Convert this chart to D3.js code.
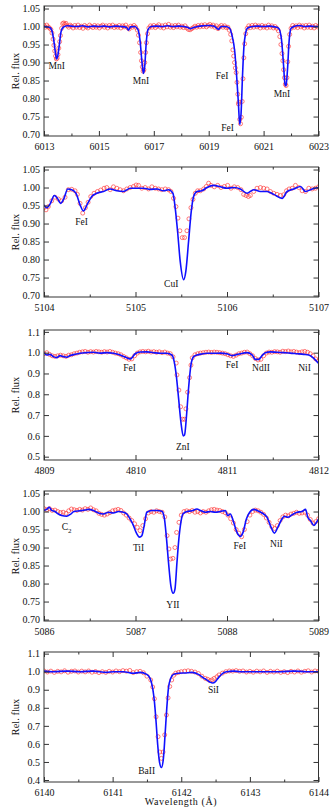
<!DOCTYPE html>
<html>
<head>
<meta charset="utf-8">
<script src="https://cdn.jsdelivr.net/npm/d3@7"></script>
<style>
  body { margin: 0; background: #fff; }
  svg text { font-family: "Liberation Serif", "DejaVu Serif", serif; }
</style>
</head>
<body>
<script>
// ---- panel 1: 6013-6023 A (MnI, FeI) ----
const p1Model = [[6013.00,1.000],[6013.10,0.999],[6013.20,0.998],[6013.28,0.990],[6013.35,0.965],[6013.42,0.925],[6013.46,0.910],[6013.50,0.918],[6013.56,0.950],[6013.62,0.985],[6013.70,0.998],[6013.85,1.002],[6014.00,1.001],[6014.20,1.000],[6014.40,1.002],[6014.60,0.999],[6014.80,1.001],[6015.00,1.000],[6015.20,1.001],[6015.40,0.999],[6015.60,1.001],[6015.80,1.000],[6016.00,0.998],[6016.08,0.990],[6016.15,0.999],[6016.30,1.000],[6016.42,0.992],[6016.50,0.960],[6016.57,0.900],[6016.62,0.870],[6016.67,0.890],[6016.72,0.950],[6016.78,0.990],[6016.90,1.000],[6017.10,1.001],[6017.30,1.000],[6017.50,1.002],[6017.70,1.000],[6017.90,1.001],[6018.10,1.000],[6018.25,0.997],[6018.33,0.994],[6018.45,0.997],[6018.60,1.000],[6018.80,1.002],[6019.00,1.003],[6019.20,1.001],[6019.36,0.992],[6019.45,1.000],[6019.60,1.000],[6019.75,0.996],[6019.85,0.975],[6019.95,0.930],[6020.02,0.860],[6020.08,0.790],[6020.13,0.728],[6020.18,0.760],[6020.23,0.860],[6020.28,0.940],[6020.34,0.980],[6020.42,0.996],[6020.60,1.000],[6020.80,1.001],[6021.00,1.000],[6021.20,1.001],[6021.40,0.999],[6021.55,0.995],[6021.65,0.965],[6021.72,0.900],[6021.78,0.840],[6021.82,0.835],[6021.87,0.880],[6021.93,0.960],[6022.00,0.995],[6022.10,1.000],[6022.30,1.003],[6022.50,1.000],[6022.70,1.001],[6022.90,1.000],[6023.00,1.000]];
const p1Obs = [[6013.00,1.003],[6013.05,0.998],[6013.10,1.004],[6013.15,0.999],[6013.20,0.996],[6013.25,0.992],[6013.29,0.982],[6013.33,0.965],[6013.36,0.948],[6013.39,0.932],[6013.42,0.918],[6013.45,0.910],[6013.48,0.912],[6013.51,0.922],[6013.54,0.940],[6013.57,0.958],[6013.60,0.975],[6013.64,0.995],[6013.68,1.008],[6013.72,1.010],[6013.76,1.006],[6013.80,1.009],[6013.85,1.002],[6013.90,0.998],[6013.95,1.004],[6014.00,1.001],[6014.06,0.996],[6014.12,1.003],[6014.18,0.998],[6014.24,1.004],[6014.30,0.997],[6014.36,1.001],[6014.42,0.995],[6014.48,1.003],[6014.54,0.999],[6014.60,0.996],[6014.66,1.004],[6014.72,1.000],[6014.78,0.997],[6014.84,1.003],[6014.90,0.998],[6014.96,1.002],[6015.02,0.996],[6015.08,1.001],[6015.14,1.004],[6015.20,0.998],[6015.26,1.002],[6015.32,0.996],[6015.38,1.003],[6015.44,0.999],[6015.50,1.004],[6015.56,0.997],[6015.62,1.001],[6015.68,0.998],[6015.74,1.003],[6015.80,0.996],[6015.86,1.002],[6015.92,0.999],[6015.98,1.004],[6016.04,0.997],[6016.10,0.993],[6016.16,1.001],[6016.22,0.998],[6016.28,1.003],[6016.34,0.998],[6016.40,0.990],[6016.44,0.976],[6016.48,0.955],[6016.52,0.928],[6016.55,0.905],[6016.58,0.888],[6016.61,0.876],[6016.64,0.880],[6016.67,0.900],[6016.70,0.928],[6016.73,0.955],[6016.77,0.980],[6016.82,0.996],[6016.88,1.002],[6016.94,0.998],[6017.00,1.003],[6017.06,0.997],[6017.12,1.001],[6017.18,1.005],[6017.24,0.998],[6017.30,1.002],[6017.36,0.996],[6017.42,1.004],[6017.48,0.999],[6017.54,1.006],[6017.60,0.998],[6017.66,1.002],[6017.72,0.997],[6017.78,1.003],[6017.84,0.999],[6017.90,1.004],[6017.96,0.998],[6018.02,1.001],[6018.08,0.997],[6018.14,1.002],[6018.20,0.996],[6018.26,0.992],[6018.32,0.991],[6018.38,0.994],[6018.44,0.997],[6018.50,1.001],[6018.56,0.998],[6018.62,1.003],[6018.68,0.999],[6018.74,1.004],[6018.80,1.000],[6018.86,1.005],[6018.92,0.999],[6018.98,1.003],[6019.04,1.006],[6019.10,1.001],[6019.16,1.004],[6019.22,0.998],[6019.28,1.002],[6019.34,0.994],[6019.40,0.999],[6019.46,1.003],[6019.52,0.998],[6019.58,1.002],[6019.64,0.997],[6019.70,0.998],[6019.75,0.990],[6019.80,0.978],[6019.84,0.960],[6019.88,0.935],[6019.91,0.918],[6019.94,0.900],[6019.97,0.885],[6020.00,0.872],[6020.03,0.845],[6020.06,0.812],[6020.08,0.785],[6020.10,0.790],[6020.13,0.742],[6020.16,0.730],[6020.19,0.748],[6020.22,0.792],[6020.25,0.855],[6020.28,0.913],[6020.31,0.952],[6020.35,0.980],[6020.40,0.995],[6020.46,1.002],[6020.52,0.997],[6020.58,1.003],[6020.64,0.998],[6020.70,1.004],[6020.76,0.999],[6020.82,1.002],[6020.88,0.996],[6020.94,1.003],[6021.00,0.998],[6021.06,1.001],[6021.12,0.996],[6021.18,1.004],[6021.24,0.998],[6021.30,1.002],[6021.36,0.996],[6021.42,1.000],[6021.48,0.995],[6021.54,0.988],[6021.59,0.972],[6021.63,0.950],[6021.67,0.925],[6021.70,0.905],[6021.73,0.880],[6021.76,0.858],[6021.79,0.840],[6021.82,0.836],[6021.85,0.858],[6021.88,0.902],[6021.91,0.945],[6021.95,0.978],[6022.00,0.995],[6022.06,1.003],[6022.12,0.998],[6022.18,1.002],[6022.24,0.997],[6022.30,1.004],[6022.36,0.999],[6022.42,1.002],[6022.48,0.996],[6022.54,1.003],[6022.60,0.998],[6022.66,1.004],[6022.72,0.997],[6022.78,1.001],[6022.84,0.996],[6022.90,1.003],[6022.96,0.999]];
const p1Lines = [["MnI",6013.46,0.891],["MnI",6016.53,0.851],["FeI",6019.49,0.863],["FeI",6019.69,0.719],["MnI",6021.67,0.813]];

// ---- panel 2: 5104-5107 A (CuI) ----
const p2Model = [[5104.000,0.952],[5104.029,0.944],[5104.066,0.954],[5104.113,0.978],[5104.146,0.970],[5104.182,0.956],[5104.219,0.970],[5104.259,0.996],[5104.303,0.994],[5104.350,0.984],[5104.394,0.952],[5104.431,0.935],[5104.474,0.954],[5104.522,0.975],[5104.577,0.984],[5104.650,0.989],[5104.723,0.996],[5104.796,0.991],[5104.869,0.989],[5104.942,0.998],[5105.015,0.998],[5105.088,0.998],[5105.161,0.995],[5105.234,0.996],[5105.307,0.991],[5105.361,0.994],[5105.409,0.984],[5105.434,0.943],[5105.460,0.878],[5105.489,0.794],[5105.526,0.744],[5105.550,0.767],[5105.580,0.850],[5105.609,0.933],[5105.635,0.975],[5105.672,0.989],[5105.726,0.991],[5105.781,1.000],[5105.854,1.006],[5105.927,1.002],[5106.000,0.998],[5106.073,1.000],[5106.146,0.996],[5106.219,0.984],[5106.292,0.994],[5106.365,0.989],[5106.438,0.989],[5106.511,0.981],[5106.602,0.970],[5106.657,0.989],[5106.730,0.996],[5106.803,1.003],[5106.858,0.989],[5106.931,0.996],[5107.000,1.000]];
const p2Obs = [[5104.000,0.944],[5104.022,0.938],[5104.047,0.947],[5104.084,0.963],[5104.120,0.973],[5104.157,0.968],[5104.193,0.963],[5104.230,0.973],[5104.266,0.994],[5104.303,0.995],[5104.339,0.991],[5104.365,0.981],[5104.394,0.956],[5104.423,0.929],[5104.453,0.944],[5104.482,0.959],[5104.511,0.975],[5104.547,0.984],[5104.584,0.989],[5104.620,0.993],[5104.657,0.998],[5104.686,1.000],[5104.723,0.994],[5104.759,1.002],[5104.796,0.998],[5104.832,0.994],[5104.869,0.991],[5104.905,0.996],[5104.942,1.000],[5104.978,1.003],[5105.007,1.007],[5105.033,1.006],[5105.069,0.998],[5105.106,1.000],[5105.142,0.996],[5105.179,1.002],[5105.215,0.998],[5105.252,0.996],[5105.288,0.994],[5105.325,0.996],[5105.361,0.994],[5105.387,0.989],[5105.416,0.970],[5105.442,0.947],[5105.464,0.915],[5105.485,0.880],[5105.511,0.861],[5105.536,0.861],[5105.562,0.880],[5105.584,0.913],[5105.606,0.944],[5105.628,0.967],[5105.653,0.984],[5105.679,0.991],[5105.708,0.991],[5105.745,0.996],[5105.774,1.003],[5105.799,1.012],[5105.825,1.006],[5105.861,1.002],[5105.898,1.006],[5105.934,1.000],[5105.971,1.003],[5106.007,1.006],[5106.044,0.998],[5106.080,1.002],[5106.117,1.000],[5106.153,0.994],[5106.182,0.981],[5106.208,0.978],[5106.234,0.975],[5106.255,0.978],[5106.292,0.989],[5106.328,0.998],[5106.365,1.000],[5106.401,0.998],[5106.438,0.996],[5106.474,0.989],[5106.511,0.984],[5106.547,0.981],[5106.584,0.978],[5106.620,0.980],[5106.650,0.991],[5106.679,0.996],[5106.712,0.998],[5106.748,1.006],[5106.785,1.000],[5106.821,0.991],[5106.858,0.989],[5106.894,0.998],[5106.931,0.996],[5106.967,0.998],[5107.000,1.002]];
const p2Lines = [["FeI",5104.41,0.904],["CuI",5105.39,0.732]];

// ---- panel 3: 4809-4812 A (ZnI) ----
const p3Model = [[4809.000,1.000],[4809.029,0.989],[4809.066,0.992],[4809.102,0.981],[4809.139,0.976],[4809.175,0.986],[4809.212,0.981],[4809.248,0.978],[4809.285,0.986],[4809.339,0.992],[4809.394,0.997],[4809.467,1.000],[4809.540,1.002],[4809.613,0.998],[4809.686,1.000],[4809.759,0.997],[4809.832,0.989],[4809.887,0.979],[4809.942,0.970],[4809.960,0.975],[4809.996,0.995],[4810.051,1.003],[4810.124,1.004],[4810.197,1.000],[4810.270,0.997],[4810.343,0.997],[4810.398,0.989],[4810.423,0.957],[4810.445,0.893],[4810.471,0.780],[4810.496,0.668],[4810.522,0.600],[4810.536,0.604],[4810.558,0.700],[4810.580,0.829],[4810.606,0.941],[4810.635,0.981],[4810.672,0.989],[4810.726,0.994],[4810.781,0.997],[4810.854,0.997],[4810.927,0.998],[4811.000,0.995],[4811.055,0.986],[4811.091,0.989],[4811.146,0.995],[4811.219,1.000],[4811.274,0.989],[4811.310,0.968],[4811.347,0.968],[4811.383,0.986],[4811.420,1.000],[4811.474,1.004],[4811.547,1.002],[4811.620,1.000],[4811.693,0.998],[4811.766,0.995],[4811.839,0.992],[4811.894,0.989],[4811.949,0.973],[4812.000,0.949]];
const p3Obs = [[4809.00,0.995],[4809.03,1.000],[4809.06,0.992],[4809.09,0.985],[4809.12,0.982],[4809.15,0.985],[4809.18,0.988],[4809.21,0.985],[4809.24,0.982],[4809.27,0.988],[4809.30,0.990],[4809.33,0.995],[4809.36,0.998],[4809.39,1.002],[4809.42,1.004],[4809.45,1.006],[4809.48,1.002],[4809.51,1.005],[4809.54,1.003],[4809.57,1.006],[4809.60,1.004],[4809.63,1.002],[4809.66,1.005],[4809.69,1.003],[4809.72,1.006],[4809.75,1.002],[4809.78,0.998],[4809.81,0.995],[4809.84,0.990],[4809.87,0.982],[4809.90,0.975],[4809.93,0.968],[4809.96,0.970],[4809.99,0.985],[4810.02,0.998],[4810.05,1.004],[4810.08,1.006],[4810.11,1.004],[4810.14,1.007],[4810.17,1.003],[4810.20,1.005],[4810.23,1.002],[4810.26,1.004],[4810.29,1.000],[4810.32,1.003],[4810.35,0.998],[4810.38,0.995],[4810.41,0.980],[4810.445,0.950],[4810.453,0.893],[4810.474,0.820],[4810.493,0.740],[4810.515,0.680],[4810.536,0.680],[4810.551,0.730],[4810.569,0.810],[4810.591,0.880],[4810.606,0.940],[4810.62,0.975],[4810.65,0.990],[4810.68,0.995],[4810.71,0.998],[4810.74,1.000],[4810.77,1.002],[4810.80,1.003],[4810.83,1.001],[4810.86,1.003],[4810.89,1.002],[4810.92,1.000],[4810.95,0.998],[4810.98,0.995],[4811.01,0.990],[4811.04,0.985],[4811.07,0.982],[4811.10,0.988],[4811.13,0.995],[4811.16,0.998],[4811.19,1.002],[4811.22,1.003],[4811.25,0.995],[4811.28,0.985],[4811.31,0.972],[4811.34,0.965],[4811.37,0.968],[4811.40,0.985],[4811.43,0.998],[4811.46,1.003],[4811.49,1.002],[4811.52,1.005],[4811.55,1.004],[4811.58,1.002],[4811.61,1.007],[4811.64,1.005],[4811.67,1.008],[4811.70,1.004],[4811.73,1.006],[4811.76,1.003],[4811.79,1.000],[4811.82,1.004],[4811.85,1.006],[4811.88,1.002],[4811.91,0.995],[4811.94,0.985],[4811.97,0.970],[4812.00,0.962]];
const p3Lines = [["FeI",4809.934,0.929],["ZnI",4810.518,0.546],["FeI",4811.055,0.941],["NdII",4811.372,0.928],["NiI",4811.847,0.929]];

// ---- panel 4: 5086-5089 A (YII) ----
const p4Model = [[5086.000,1.003],[5086.029,1.006],[5086.058,1.012],[5086.084,1.003],[5086.120,1.000],[5086.157,0.993],[5086.193,0.989],[5086.248,0.987],[5086.292,0.993],[5086.328,1.000],[5086.394,1.002],[5086.449,1.004],[5086.485,1.006],[5086.540,1.003],[5086.595,0.996],[5086.650,0.993],[5086.704,0.998],[5086.759,0.996],[5086.814,1.000],[5086.869,0.998],[5086.905,0.993],[5086.942,0.979],[5086.978,0.961],[5087.007,0.942],[5087.044,0.929],[5087.069,0.933],[5087.095,0.961],[5087.124,0.998],[5087.179,1.003],[5087.234,1.003],[5087.288,1.001],[5087.314,0.984],[5087.336,0.933],[5087.361,0.858],[5087.387,0.793],[5087.412,0.773],[5087.431,0.784],[5087.453,0.858],[5087.474,0.924],[5087.496,0.970],[5087.518,0.993],[5087.562,1.000],[5087.617,1.002],[5087.672,1.007],[5087.708,1.003],[5087.763,0.998],[5087.818,1.000],[5087.872,0.998],[5087.927,1.000],[5087.982,1.003],[5088.007,0.989],[5088.036,0.993],[5088.073,0.970],[5088.109,0.942],[5088.146,0.931],[5088.175,0.942],[5088.212,0.979],[5088.248,0.998],[5088.292,1.006],[5088.328,1.003],[5088.383,0.996],[5088.438,0.984],[5088.482,0.956],[5088.518,0.940],[5088.555,0.956],[5088.591,0.975],[5088.628,0.987],[5088.664,0.984],[5088.712,0.991],[5088.766,0.998],[5088.821,1.000],[5088.858,1.006],[5088.883,0.984],[5088.912,0.975],[5088.949,0.961],[5088.978,0.970],[5089.000,0.979]];
const p4Obs = [[5086.00,1.008],[5086.03,1.005],[5086.06,1.008],[5086.09,1.003],[5086.12,1.004],[5086.15,1.000],[5086.18,0.997],[5086.21,0.998],[5086.24,0.995],[5086.27,1.002],[5086.30,1.007],[5086.33,1.005],[5086.36,1.003],[5086.39,1.006],[5086.42,1.004],[5086.45,1.008],[5086.48,1.006],[5086.51,1.010],[5086.54,1.005],[5086.57,1.002],[5086.60,0.995],[5086.63,0.992],[5086.66,0.990],[5086.69,0.993],[5086.72,0.997],[5086.75,1.002],[5086.78,1.004],[5086.81,1.006],[5086.84,1.003],[5086.87,0.996],[5086.90,0.990],[5086.93,0.982],[5086.96,0.975],[5086.99,0.966],[5087.02,0.956],[5087.05,0.947],[5087.08,0.961],[5087.11,0.980],[5087.14,0.996],[5087.17,1.000],[5087.20,0.998],[5087.23,1.002],[5087.26,1.000],[5087.29,0.998],[5087.32,0.985],[5087.345,0.933],[5087.365,0.896],[5087.383,0.868],[5087.409,0.870],[5087.431,0.900],[5087.449,0.942],[5087.475,0.970],[5087.50,0.990],[5087.53,1.000],[5087.56,1.002],[5087.59,1.000],[5087.62,1.003],[5087.65,0.998],[5087.68,1.000],[5087.71,0.996],[5087.74,1.000],[5087.77,0.998],[5087.80,1.002],[5087.83,1.005],[5087.86,1.006],[5087.89,1.004],[5087.92,1.003],[5087.95,1.000],[5087.98,0.997],[5088.01,0.990],[5088.04,0.980],[5088.07,0.968],[5088.10,0.950],[5088.13,0.940],[5088.16,0.930],[5088.19,0.950],[5088.22,0.972],[5088.25,0.990],[5088.28,1.000],[5088.31,1.004],[5088.34,1.002],[5088.37,0.998],[5088.40,0.992],[5088.43,0.982],[5088.46,0.970],[5088.49,0.958],[5088.52,0.953],[5088.55,0.961],[5088.58,0.975],[5088.61,0.985],[5088.64,0.990],[5088.67,0.988],[5088.70,0.993],[5088.73,0.995],[5088.76,0.998],[5088.79,0.995],[5088.82,0.996],[5088.85,0.998],[5088.88,0.990],[5088.91,0.978],[5088.94,0.968],[5088.97,0.972],[5089.00,0.980]];
const p4Lines = [["C2",5086.248,0.959],["TiI",5087.033,0.899],["YII",5087.409,0.742],["FeI",5088.139,0.905],["NiI",5088.540,0.912]];

// ---- panel 5: 6140-6144 A (BaII) ----
const p5Model = [[6140.000,1.003],[6140.136,1.000],[6140.330,1.003],[6140.525,1.000],[6140.719,1.003],[6140.914,0.996],[6141.011,1.000],[6141.157,1.000],[6141.303,0.991],[6141.400,0.996],[6141.497,0.985],[6141.546,0.963],[6141.584,0.908],[6141.609,0.834],[6141.633,0.723],[6141.657,0.594],[6141.682,0.502],[6141.711,0.469],[6141.740,0.520],[6141.764,0.649],[6141.789,0.797],[6141.813,0.908],[6141.847,0.963],[6141.886,0.985],[6141.959,0.991],[6142.056,0.993],[6142.153,0.996],[6142.250,0.985],[6142.323,0.966],[6142.372,0.955],[6142.420,0.942],[6142.459,0.937],[6142.498,0.945],[6142.542,0.967],[6142.605,0.991],[6142.663,1.000],[6142.761,1.003],[6142.858,1.000],[6143.052,1.000],[6143.247,1.000],[6143.441,1.000],[6143.636,1.003],[6143.830,1.000],[6144.000,1.000]];
const p5Obs = [[6140.00,1.004],[6140.05,0.998],[6140.10,1.003],[6140.15,0.996],[6140.20,1.002],[6140.25,0.999],[6140.30,1.005],[6140.35,0.997],[6140.40,1.002],[6140.45,1.004],[6140.50,0.998],[6140.55,1.003],[6140.60,0.999],[6140.65,1.004],[6140.70,0.997],[6140.75,1.001],[6140.80,0.995],[6140.85,1.000],[6140.90,0.996],[6140.95,1.002],[6141.00,0.998],[6141.05,1.004],[6141.10,1.000],[6141.15,1.006],[6141.20,1.003],[6141.25,1.007],[6141.30,0.995],[6141.35,1.000],[6141.40,1.002],[6141.45,0.994],[6141.50,0.975],[6141.555,0.954],[6141.584,0.915],[6141.609,0.850],[6141.633,0.750],[6141.662,0.640],[6141.687,0.555],[6141.711,0.520],[6141.735,0.555],[6141.759,0.650],[6141.784,0.760],[6141.808,0.855],[6141.832,0.918],[6141.861,0.954],[6141.89,0.980],[6141.92,0.992],[6141.96,0.996],[6142.00,1.000],[6142.05,1.003],[6142.10,1.005],[6142.15,1.002],[6142.20,0.998],[6142.25,0.990],[6142.30,0.975],[6142.35,0.963],[6142.385,0.958],[6142.42,0.950],[6142.45,0.955],[6142.48,0.963],[6142.52,0.972],[6142.55,0.982],[6142.60,0.992],[6142.65,1.000],[6142.70,1.004],[6142.75,1.003],[6142.80,1.006],[6142.85,1.002],[6142.90,1.004],[6142.95,0.998],[6143.00,1.002],[6143.05,0.997],[6143.10,1.003],[6143.15,0.999],[6143.20,1.004],[6143.25,0.996],[6143.30,1.002],[6143.35,0.998],[6143.40,1.003],[6143.45,0.996],[6143.50,1.000],[6143.55,0.995],[6143.60,1.002],[6143.65,0.998],[6143.70,1.004],[6143.75,0.997],[6143.80,1.002],[6143.85,1.005],[6143.90,0.998],[6143.95,1.004],[6144.00,1.002]];
const p5Lines = [["BaII",6141.497,0.452],["SiI",6142.469,0.899]];

// axis domains and ticks
const xDomains = [[6013,6023],[5104,5107],[4809,4812],[5086,5089],[6140,6144]];
const yDomains = [[0.696,1.057],[0.696,1.057],[0.484,1.109],[0.696,1.057],[0.389,1.109]];
const xMajor = [[6013,6015,6017,6019,6021,6023],[5104,5105,5106,5107],[4809,4810,4811,4812],[5086,5087,5088,5089],[6140,6141,6142,6143,6144]];
const xMinor = [[6014,6016,6018,6020,6022],[5104.5,5105.5,5106.5],[4809.5,4810.5,4811.5],[5086.5,5087.5,5088.5],[6140.5,6141.5,6142.5,6143.5]];
const yTickVals = [[0.70,0.75,0.80,0.85,0.90,0.95,1.00,1.05],[0.70,0.75,0.80,0.85,0.90,0.95,1.00,1.05],[0.5,0.6,0.7,0.8,0.9,1.0,1.1],[0.70,0.75,0.80,0.85,0.90,0.95,1.00,1.05],[0.4,0.5,0.6,0.7,0.8,0.9,1.0,1.1]];
const yFormats = [".2f",".2f",".1f",".2f",".1f"];

const models = [p1Model, p2Model, p3Model, p4Model, p5Model];
const observed = [p1Obs, p2Obs, p3Obs, p4Obs, p5Obs];
const lineIds = [p1Lines, p2Lines, p3Lines, p4Lines, p5Lines];

const width = 334, height = 807;
const left = 44, right = 318.5, panelH = 130;
const tops = [6, 167, 330, 491, 652];

const svg = d3.select("body").append("svg")
    .attr("width", width)
    .attr("height", height);

function drawPanel(i) {
    let top = tops[i];
    let x = d3.scaleLinear().domain(xDomains[i]).range([left, right]);
    let y = d3.scaleLinear().domain(yDomains[i]).range([top + panelH, top]);
    let g = svg.append("g");

    g.append("clipPath").attr("id", "clip" + i)
        .append("rect")
        .attr("x", left).attr("y", top)
        .attr("width", right - left).attr("height", panelH);

    let plot = g.append("g").attr("clip-path", "url(#clip" + i + ")");

    plot.selectAll("circle")
        .data(observed[i]).enter()
        .append("circle")
        .attr("cx", d => x(d[0]))
        .attr("cy", d => y(d[1]))
        .attr("r", 2)
        .attr("fill", "none")
        .attr("stroke", "#ff3030")
        .attr("stroke-opacity", 0.8)
        .attr("stroke-width", 0.8);

    let line = d3.line()
        .x(d => x(d[0]))
        .y(d => y(d[1]))
        .curve(d3.curveMonotoneX);

    plot.append("path")
        .datum(models[i])
        .attr("d", line)
        .attr("fill", "none")
        .attr("stroke", "#1010ff")
        .attr("stroke-width", 1.6);

    // axes with inward ticks
    let styleAxis = sel => {
        sel.select(".domain").remove();
        sel.style("color", "#333");
        sel.selectAll("text")
            .attr("font-family", "Liberation Serif, serif")
            .attr("font-size", 10)
            .attr("fill", "#111");
    };

    g.append("g").attr("transform", "translate(0," + (top + panelH) + ")")
        .call(d3.axisBottom(x).tickValues(xMajor[i]).tickSize(-5).tickPadding(6.5).tickFormat(d3.format("d")))
        .call(styleAxis);
    g.append("g").attr("transform", "translate(0," + (top + panelH) + ")")
        .call(d3.axisBottom(x).tickValues(xMinor[i]).tickSize(-2.5).tickFormat(""))
        .call(styleAxis);
    g.append("g").attr("transform", "translate(0," + top + ")")
        .call(d3.axisTop(x).tickValues(xMajor[i]).tickSize(-5).tickFormat(""))
        .call(styleAxis);
    g.append("g").attr("transform", "translate(0," + top + ")")
        .call(d3.axisTop(x).tickValues(xMinor[i]).tickSize(-2.5).tickFormat(""))
        .call(styleAxis);
    g.append("g").attr("transform", "translate(" + left + ",0)")
        .call(d3.axisLeft(y).tickValues(yTickVals[i]).tickSize(-5).tickPadding(4).tickFormat(d3.format(yFormats[i])))
        .call(styleAxis);
    g.append("g").attr("transform", "translate(" + right + ",0)")
        .call(d3.axisRight(y).tickValues(yTickVals[i]).tickSize(-5).tickFormat(""))
        .call(styleAxis);

    g.append("rect")
        .attr("x", left).attr("y", top)
        .attr("width", right - left).attr("height", panelH)
        .attr("fill", "none")
        .attr("stroke", "#333")
        .attr("stroke-width", 1);

    // line identifications
    let labels = g.selectAll("text.ident")
        .data(lineIds[i]).enter()
        .append("text")
        .attr("class", "ident")
        .attr("x", d => x(d[1]))
        .attr("y", d => y(d[2]))
        .attr("dy", "0.35em")
        .attr("text-anchor", "middle")
        .attr("font-size", 9.5)
        .attr("fill", "#111");
    labels.each(function (d) {
        let t = d3.select(this);
        if (d[0] === "C2") {
            t.append("tspan").text("C");
            t.append("tspan").attr("font-size", 7).attr("dy", 3).text("2");
        } else {
            t.text(d[0]);
        }
    });

    // y title
    svg.append("text")
        .attr("transform", "translate(15," + (top + panelH / 2) + ") rotate(-90)")
        .attr("text-anchor", "middle")
        .attr("dy", "0.35em")
        .attr("font-size", 10.5)
        .attr("fill", "#111")
        .text("Rel. flux");
}

for (let i = 0; i < 5; i++) drawPanel(i);

svg.append("text")
    .attr("x", 181)
    .attr("y", 805)
    .attr("text-anchor", "middle")
    .attr("font-size", 10)
    .attr("letter-spacing", 0.6)
    .attr("fill", "#111")
    .text("Wavelength (Å)");
</script>
</body>
</html>
